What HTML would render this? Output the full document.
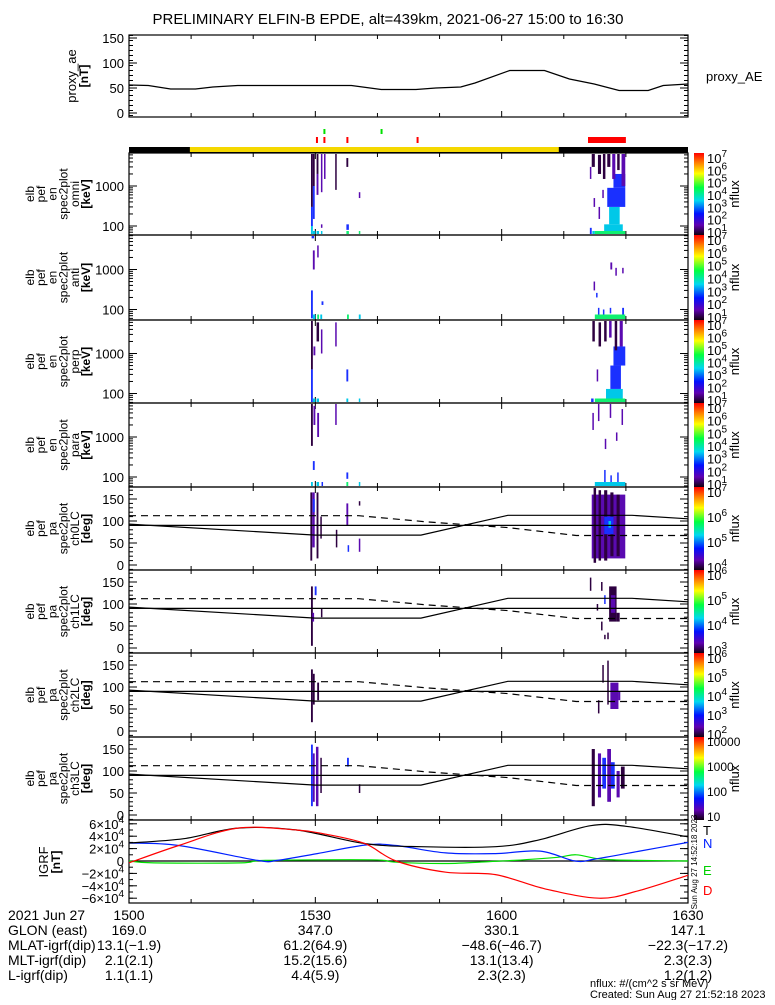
<!DOCTYPE html>
<html><head><meta charset="utf-8">
<style>
body{margin:0;background:#fff;}
svg text{font-family:"Liberation Sans",sans-serif;fill:#000;}
</style></head>
<body>
<svg id="c" width="775" height="1000" xmlns="http://www.w3.org/2000/svg">
<defs>
<linearGradient id="cb" x1="0" y1="0" x2="0" y2="1">
<stop offset="0" stop-color="#ff0000"/><stop offset="0.12" stop-color="#ff8000"/>
<stop offset="0.25" stop-color="#ffff00"/><stop offset="0.42" stop-color="#00ff40"/>
<stop offset="0.58" stop-color="#00d8f0"/><stop offset="0.74" stop-color="#0010ff"/>
<stop offset="0.88" stop-color="#6000b0"/><stop offset="1" stop-color="#100010"/>
</linearGradient>
</defs>
<text x="388" y="24" font-size="15" text-anchor="middle">PRELIMINARY ELFIN-B EPDE, alt=439km, 2021-06-27 15:00 to 16:30</text>
</svg>
<script>
// ---- data ----
const aeTimes=[0,3.1,6.7,10.7,13.5,17.5,35.8,40.6,46.2,49.4,53.4,55.7,61.3,66.9,70.9,74.9,78.9,83.6,86.0,90];
const aeValues=[56,55,48,48,52,55,55,47,47,50,52,60,85,85,68,58,45,45,55,58];
const igrfTTimes=[0,8.8,17.5,27,38,47,59,66,74.3,80,90];
const igrfT=[2.9,3.6,5.3,5.0,2.8,2.3,2.3,3.4,5.7,5.6,3.9];
const igrfNTimes=[0,8,20.7,23.9,30.3,38.3,43,51,59,66.2,71.8,75,82.2,90];
const igrfN=[2.9,2.5,0.1,0.1,1.2,2.6,2.5,1.3,1.2,1.6,0,0.3,1.6,3.0];
const igrfETimes=[0,4,18,22,39,43,51,58,62,69,72,76,82,90];
const igrfE=[0,-0.3,-0.3,0.1,0.2,-0.2,-0.4,-0.1,0.1,0.6,1.0,0.3,0.1,0];
const igrfDTimes=[0,8,17.5,27,31.8,38,43,51,59,67,75.7,82,90];
const igrfD=[-0.3,2.5,5.3,5.0,4.3,2.8,0,-1.8,-2.2,-4.5,-6.0,-4.8,-2.3];
const paSolidTimes=[0,30,47,61,81,90];
const paSolid=[93,68,68,113,113,105];
const paDashTimes=[0,37,48,61,72,90];
const paDash=[112,112,98,85,67,67];
const levelColors=['#2d0040','#5a0ab0','#1a30ff','#00c8e8','#10f070'];
const specOmni=[[29.3,29.6,300,7000,0],[29.3,29.6,100,300,2],[29.3,29.6,56,100,3],[29.6,29.9,1000,7000,0],[29.6,29.9,150,1000,2],[29.6,30.0,56,75,3],[30.2,30.5,2000,7000,0],[30.2,30.5,600,2000,1],[30.2,30.6,56,75,3],[30.9,31.1,700,7000,1],[30.9,31.1,56,75,3],[30.9,31.1,90,110,1],[31.4,31.6,1500,7000,1],[33.2,33.4,800,7000,0],[35.0,35.3,3000,5000,0],[35.0,35.4,80,110,2],[35.0,35.4,56,75,4],[37.0,37.2,500,700,1],[37.0,37.2,56,75,4],
[74.2,74.5,60,90,2],[74.2,74.4,1500,3000,1],[74.6,75.0,56,75,3],[75.0,79.9,56,75,4],[76.5,79.5,75,110,3],[77.3,79.0,110,300,3],[77.0,79.9,300,900,2],[78.0,79.9,900,2000,2],[74.5,75.0,3000,7000,0],[75.5,76.0,2000,6000,0],[76.3,76.7,1500,7000,0],[77.0,77.5,3000,7000,0],[77.8,78.3,1500,7000,1],[78.6,79.0,2500,7000,0],[79.3,79.9,1000,7000,1],[74.8,75.0,300,500,1],[75.6,75.8,150,300,1],[76.2,76.4,500,800,1]];
const specAnti=[[29.3,29.6,60,300,2],[29.6,30.0,56,75,3],[29.6,29.9,1000,3000,1],[30.3,30.6,56,75,4],[30.8,31.1,56,75,3],[30.3,30.5,2000,4000,1],[31.0,31.3,130,160,2],[35.1,35.4,56,75,4],[37.0,37.3,56,75,3],[29.4,29.8,6000,7000,2],
[75.0,79.9,56,75,4],[75.5,75.7,75,110,2],[76.3,76.5,75,100,2],[77.4,77.6,80,110,2],[79.4,79.7,75,110,2],[74.8,75.0,300,500,1],[77.5,77.8,1000,1500,1],[78.3,78.5,700,1100,1],[79.4,79.6,800,1100,1],[75.2,75.4,200,260,2]];
const specPerp=[[29.3,29.6,400,7000,0],[29.3,29.6,60,400,2],[29.6,30.0,56,75,3],[29.7,30.0,900,1500,1],[30.2,30.6,2000,6000,0],[30.2,30.6,56,75,3],[30.9,31.1,1000,4000,1],[33.2,33.4,1500,6000,1],[35.0,35.3,200,400,2],[35.0,35.3,56,75,3],[37.0,37.2,56,75,3],
[74.4,74.8,56,75,2],[75.0,79.9,56,75,4],[76.8,79.5,75,130,3],[77.5,79.2,130,500,2],[78.0,79.9,500,1500,2],[74.6,75.0,2000,7000,0],[75.6,76.0,1500,6000,0],[76.5,76.9,2000,7000,0],[77.3,77.7,2500,7000,1],[78.2,78.6,1200,7000,0],[79.0,79.5,1500,7000,1],[75.3,75.5,200,400,1]];
const specPara=[[29.3,29.6,600,7000,0],[29.3,29.6,56,75,3],[29.6,29.9,150,250,2],[29.7,30.0,2000,6000,1],[30.2,30.6,56,75,3],[30.3,30.6,1000,4000,1],[31.0,31.2,56,75,2],[33.2,33.4,2000,7000,1],[35.0,35.3,56,75,4],[35.0,35.3,90,130,2],[37.0,37.2,56,75,3],
[75.0,79.9,56,75,3],[76.5,76.7,75,150,2],[77.5,77.7,75,110,2],[78.6,78.8,75,130,2],[74.6,74.8,1500,4000,1],[75.5,75.7,2500,7000,1],[76.6,76.8,500,900,1],[77.4,77.6,3000,7000,1],[78.4,78.6,800,1300,1],[79.3,79.5,2000,5000,1]];
const pa0=[[29.2,29.5,10,165,0],[29.5,29.9,40,165,1],[29.6,29.9,120,150,2],[30.2,30.5,15,165,0],[30.8,31.0,60,110,0],[33.3,33.5,40,80,0],[35.0,35.3,90,140,1],[35.2,35.4,30,45,2],[37.0,37.2,30,60,1],[37.0,37.2,135,145,0],
[74.5,79.9,15,160,1],[74.8,75.2,5,175,0],[75.6,76.0,10,170,0],[76.5,77.0,10,170,0],[77.5,78.0,20,165,0],[78.5,79.0,20,160,0],[76.5,78.0,70,110,2],[77.2,77.6,85,100,3]];
const pa1=[[29.3,29.6,5,140,0],[29.5,29.8,60,80,1],[29.9,30.2,120,140,2],[30.9,31.1,70,90,0],[77.3,78.5,60,140,0],[77.6,78.3,80,120,1],[76.5,76.7,100,120,2],[75.3,75.5,85,100,0],[76.0,76.2,40,60,0],[78.5,79.0,60,80,0],[76.5,76.7,20,30,0],[77.0,77.2,20,35,0],[74.2,74.4,130,160,0],[76.0,76.2,130,150,0]];
const pa2=[[29.3,29.6,20,140,0],[29.6,29.9,60,130,0],[30.3,30.6,70,110,0],[77.5,78.8,50,110,1],[77.0,77.2,60,160,0],[76.2,76.4,110,150,0],[78.8,79.1,70,90,1],[75.5,75.7,40,70,0]];
const pa3=[[29.3,29.6,20,160,2],[29.6,29.9,30,140,1],[30.1,30.5,20,155,1],[30.8,31.0,50,130,0],[35.1,35.4,110,130,2],[37.0,37.2,50,70,0],[74.5,75.0,20,150,0],[75.5,76.0,40,140,1],[76.2,76.8,60,130,2],[77.0,77.6,30,150,1],[77.6,78.2,60,120,2],[78.5,79.0,40,100,1],[79.2,79.8,60,110,0]];
const xTickLabels=['1500','1530','1600','1630'];
const glon=['169.0','347.0','330.1','147.1'];
const mlat=['13.1(−1.9)','61.2(64.9)','−48.6(−46.7)','−22.3(−17.2)'];
const mlt=['2.1(2.1)','15.2(15.6)','13.1(13.4)','2.3(2.3)'];
const lval=['1.1(1.1)','4.4(5.9)','2.3(2.3)','1.2(1.2)'];

// ---- helpers ----
const svg=document.getElementById('c');
const NS='http://www.w3.org/2000/svg';
const X0=129,X1=688;
function xs(t){return X0+(X1-X0)*t/90;}
function mk(tag,attrs,parent){const e=document.createElementNS(NS,tag);for(const k in attrs)e.setAttribute(k,attrs[k]);(parent||svg).appendChild(e);return e;}
function txt(x,y,s,size,anchor,parent){const e=mk('text',{x:x,y:y,'font-size':size||12,'text-anchor':anchor||'start'},parent);e.textContent=s;return e;}

function frame(top,bot,name){
  const g=mk('g',{});
  
  
  mk('rect',{x:X0,y:top,width:X1-X0,height:bot-top,fill:'none',stroke:'#000','stroke-width':1.2},g);
  for(let m=0;m<=90;m+=10){const x=xs(m);const L=(m%30==0)?6:4;
    mk('line',{x1:x,y1:bot,x2:x,y2:bot-L,stroke:'#000'},g);mk('line',{x1:x,y1:top,x2:x,y2:top+L,stroke:'#000'},g);}
  return g;
}
function yTicks(g,top,bot,yfun,major,minor){
  major.forEach(v=>{const y=yfun(v);if(y<top-0.5||y>bot+0.5)return;
    mk('line',{x1:X0,y1:y,x2:X0+8,y2:y,stroke:'#000'},g);mk('line',{x1:X1,y1:y,x2:X1-8,y2:y,stroke:'#000'},g);});
  minor.forEach(v=>{const y=yfun(v);if(y<top||y>bot)return;
    mk('line',{x1:X0,y1:y,x2:X0+4,y2:y,stroke:'#000'},g);mk('line',{x1:X1,y1:y,x2:X1-4,y2:y,stroke:'#000'},g);});
}
function sideLabel(lines,cy,g){
  const n=lines.length;
  lines.forEach((s,i)=>{const x=34+i*(56/(n-1||1));const t=txt(0,0,s,12,'middle',g);
    t.setAttribute('transform','translate('+x+','+cy+') rotate(-90)');
    if(s.startsWith('['))t.setAttribute('font-weight','bold');});
}
function colorbar(top,bot,labels,name){
  const g=mk('g',{});
  
  
  mk('rect',{x:694,y:top,width:10,height:bot-top,fill:'url(#cb)'},g);
  const n=labels.length;
  labels.forEach((l,i)=>{const y=top+4+(bot-top-8)*i/(n-1);
    if(l.indexOf('^')>0){const p=l.split('^');const t=txt(707,y+6,p[0],13,'start',g);
      const s=mk('tspan',{dy:-6,'font-size':10},t);s.textContent=p[1];}
    else txt(707,y+5,l,12,'start',g);});
  const nt=txt(0,0,'nflux',13,'middle',g);nt.setAttribute('transform','translate(739,'+((top+bot)/2)+') rotate(-90)');
}
function linePath(times,vals,yfun,attrs,name,g,smooth){
  const P=times.map((t,i)=>[xs(t),yfun(vals[i])]);
  let d='M'+P[0][0].toFixed(1)+','+P[0][1].toFixed(1);
  if(!smooth){for(let i=1;i<P.length;i++)d+='L'+P[i][0].toFixed(1)+','+P[i][1].toFixed(1);}
  else{for(let i=0;i<P.length-1;i++){const p0=P[Math.max(0,i-1)],p1=P[i],p2=P[i+1],p3=P[Math.min(P.length-1,i+2)];
    const c1=[p1[0]+(p2[0]-p0[0])/6,p1[1]+(p2[1]-p0[1])/6],c2=[p2[0]-(p3[0]-p1[0])/6,p2[1]-(p3[1]-p1[1])/6];
    d+='C'+c1[0].toFixed(1)+','+c1[1].toFixed(1)+' '+c2[0].toFixed(1)+','+c2[1].toFixed(1)+' '+p2[0].toFixed(1)+','+p2[1].toFixed(1);}}
  const p=mk('path',Object.assign({d:d,fill:'none'},attrs),g);
  
  
  return p;
}

// ---- AE panel ----
(function(){
  const top=35,bot=117;const y=v=>113-v*0.5;
  const g=frame(top,bot,'proxy-ae-panel');
  const maj=[0,50,100,150],mn=[];for(let v=-5;v<=155;v+=10)mn.push(v);
  yTicks(g,top,bot,y,maj,mn);
  maj.forEach(v=>txt(124,y(v)+5,String(v),13,'end',g));
  linePath(aeTimes,aeValues,y,{stroke:'#000','stroke-width':1.2},'proxy-ae-line',g);
  const l1=txt(0,0,'proxy_ae',13,'middle',g);l1.setAttribute('transform','translate(76,76) rotate(-90)');
  const l2=txt(0,0,'[nT]',12,'middle',g);l2.setAttribute('transform','translate(88,76) rotate(-90)');l2.setAttribute('font-weight','bold');
  txt(706,81,'proxy_AE',13,'start',g);
})();

// ---- orbit bar & markers ----
(function(){
  const g=mk('g',{});
  
  
  mk('rect',{x:X0,y:147,width:X1-X0,height:6,fill:'#000'},g);
  mk('rect',{x:xs(9.8),y:147,width:xs(69.2)-xs(9.8),height:5,fill:'#f5d800'},g);
  [30.1,31.3,35.0,46.3].forEach(t=>mk('rect',{x:xs(t),y:137,width:2,height:6,fill:'#ff0000'},g));
  mk('rect',{x:xs(73.9),y:137,width:xs(80)-xs(73.9),height:6,fill:'#ff0000'},g);
  [31.3,40.5].forEach(t=>mk('rect',{x:xs(t),y:129,width:2,height:5,fill:'#00e000'},g));
})();

// ---- spectrogram panels ----
const specPanels=[[153,235,specOmni,'omni'],[235,320,specAnti,'anti'],[320,403,specPerp,'perp'],[403,487,specPara,'para']];
specPanels.forEach(([top,bot,cells,nm])=>{
  const base=top+74+((bot-top)-84)/2;
  const y=e=>base-40*Math.log10(e/100);
  const g=frame(top,bot,'spectrogram-'+nm);
  cells.forEach(c=>{const r=mk('rect',{x:xs(c[0]),y:Math.max(top+1,y(c[3])),width:Math.max(1.5,xs(c[1])-xs(c[0])),height:Math.min(bot-1,y(c[2]))-Math.max(top+1,y(c[3])),fill:levelColors[c[4]]},g);
    });
  const mn=[60,70,80,90,200,300,400,500,600,700,800,900,2000,3000,4000,5000,6000,7000];
  yTicks(g,top,bot,y,[100,1000],mn);
  txt(124,y(100)+5,'100',13,'end',g);txt(124,y(1000)+5,'1000',13,'end',g);
  sideLabel(['elb','pef','en','spec2plot',nm,'[keV]'],(top+bot)/2,g);
  colorbar(top,bot,['10^7','10^6','10^5','10^4','10^3','10^2','10^1'],'colorbar-'+nm);
});

// ---- pitch angle panels ----
const paPanels=[[487,570,pa0,'ch0LC',['10^7','10^6','10^5','10^4']],[570,653,pa1,'ch1LC',['10^6','10^5','10^4','10^3']],[653,737,pa2,'ch2LC',['10^6','10^5','10^4','10^3','10^2']],[737,820,pa3,'ch3LC',['10000','1000','100','10']]];
paPanels.forEach(([top,bot,cells,nm,cbl])=>{
  const y=d=>top+78-d*0.44;
  const g=frame(top,bot,'pitch-angle-'+nm);
  cells.forEach(c=>{const r=mk('rect',{x:xs(c[0]),y:y(c[3]),width:Math.max(1.5,xs(c[1])-xs(c[0])),height:y(c[2])-y(c[3]),fill:levelColors[c[4]]},g);
    });
  const mn=[];for(let v=-10;v<=175;v+=10)mn.push(v);
  yTicks(g,top,bot,y,[0,50,100,150],mn);
  [0,50,100,150].forEach(v=>txt(124,y(v)+5,String(v),13,'end',g));
  mk('line',{x1:X0,y1:y(90),x2:X1,y2:y(90),stroke:'#000','stroke-width':1.2},g);
  linePath(paSolidTimes,paSolid,y,{stroke:'#000','stroke-width':1.2},'loss-cone-line',g);
  linePath(paDashTimes,paDash,y,{stroke:'#000','stroke-width':1.2,'stroke-dasharray':'7,5'},'anti-loss-cone-line',g);
  sideLabel(['elb','pef','pa','spec2plot',nm,'[deg]'],(top+bot)/2,g);
  colorbar(top,bot,cbl,'colorbar-'+nm);
});

// ---- IGRF panel ----
(function(){
  const top=820,bot=903;const y=v=>861-v*6.2;
  const g=frame(top,bot,'igrf-panel');
  const maj=[-6,-4,-2,0,2,4,6],mn=[];for(let v=-6;v<=6;v+=1)mn.push(v);
  yTicks(g,top,bot,y,maj,mn);
  maj.forEach(v=>{if(v==0){txt(124,y(0)+5,'0',13,'end',g);return;}
    const t=txt(124,y(v)+5,(v<0?'−':'')+Math.abs(v)+'×10',13,'end',g);const s=mk('tspan',{dy:-6,'font-size':10},t);s.textContent='4';});
  mk('line',{x1:X0,y1:y(0),x2:X1,y2:y(0),stroke:'#000','stroke-width':1.2},g);
  linePath(igrfETimes,igrfE,y,{stroke:'#00e000','stroke-width':1.2},'igrf-e-line',g,true);
  linePath(igrfNTimes,igrfN,y,{stroke:'#0020ff','stroke-width':1.2},'igrf-n-line',g,true);
  linePath(igrfTTimes,igrfT,y,{stroke:'#000','stroke-width':1.2},'igrf-t-line',g,true);
  linePath(igrfDTimes,igrfD,y,{stroke:'#ff0000','stroke-width':1.2},'igrf-d-line',g,true);
  const l1=txt(0,0,'IGRF',13,'middle',g);l1.setAttribute('transform','translate(48,862) rotate(-90)');
  const l2=txt(0,0,'[nT]',12,'middle',g);l2.setAttribute('transform','translate(60,862) rotate(-90)');l2.setAttribute('font-weight','bold');
  [['T','#000',835],['N','#0020ff',848],['E','#00d000',875],['D','#ff0000',895]].forEach(a=>{const t=txt(703,a[2],a[0],13,'start',g);t.setAttribute('fill',a[1]);t.style.fill=a[1];});
  const ts=txt(0,0,'Sun Aug 27 14:52:18 2023',8,'middle',g);ts.setAttribute('transform','translate(697,862) rotate(-90)');
})();

// ---- bottom annotation ----
(function(){
  const g=mk('g',{});
  
  
  const rows=[['2021 Jun 27',xTickLabels],['GLON (east)',glon],['MLAT-igrf(dip)',mlat],['MLT-igrf(dip)',mlt],['L-igrf(dip)',lval]];
  rows.forEach((r,i)=>{const yy=920+i*15;txt(8,yy,r[0],14,'start',g);
    r[1].forEach((v,j)=>txt(xs(j*30),yy,v,14,'middle',g));});
  txt(590,987,'nflux: #/(cm^2 s sr MeV)',11,'start',g);
  txt(590,998,'Created: Sun Aug 27 21:52:18 2023',11,'start',g);
})();
</script>
</body></html>
